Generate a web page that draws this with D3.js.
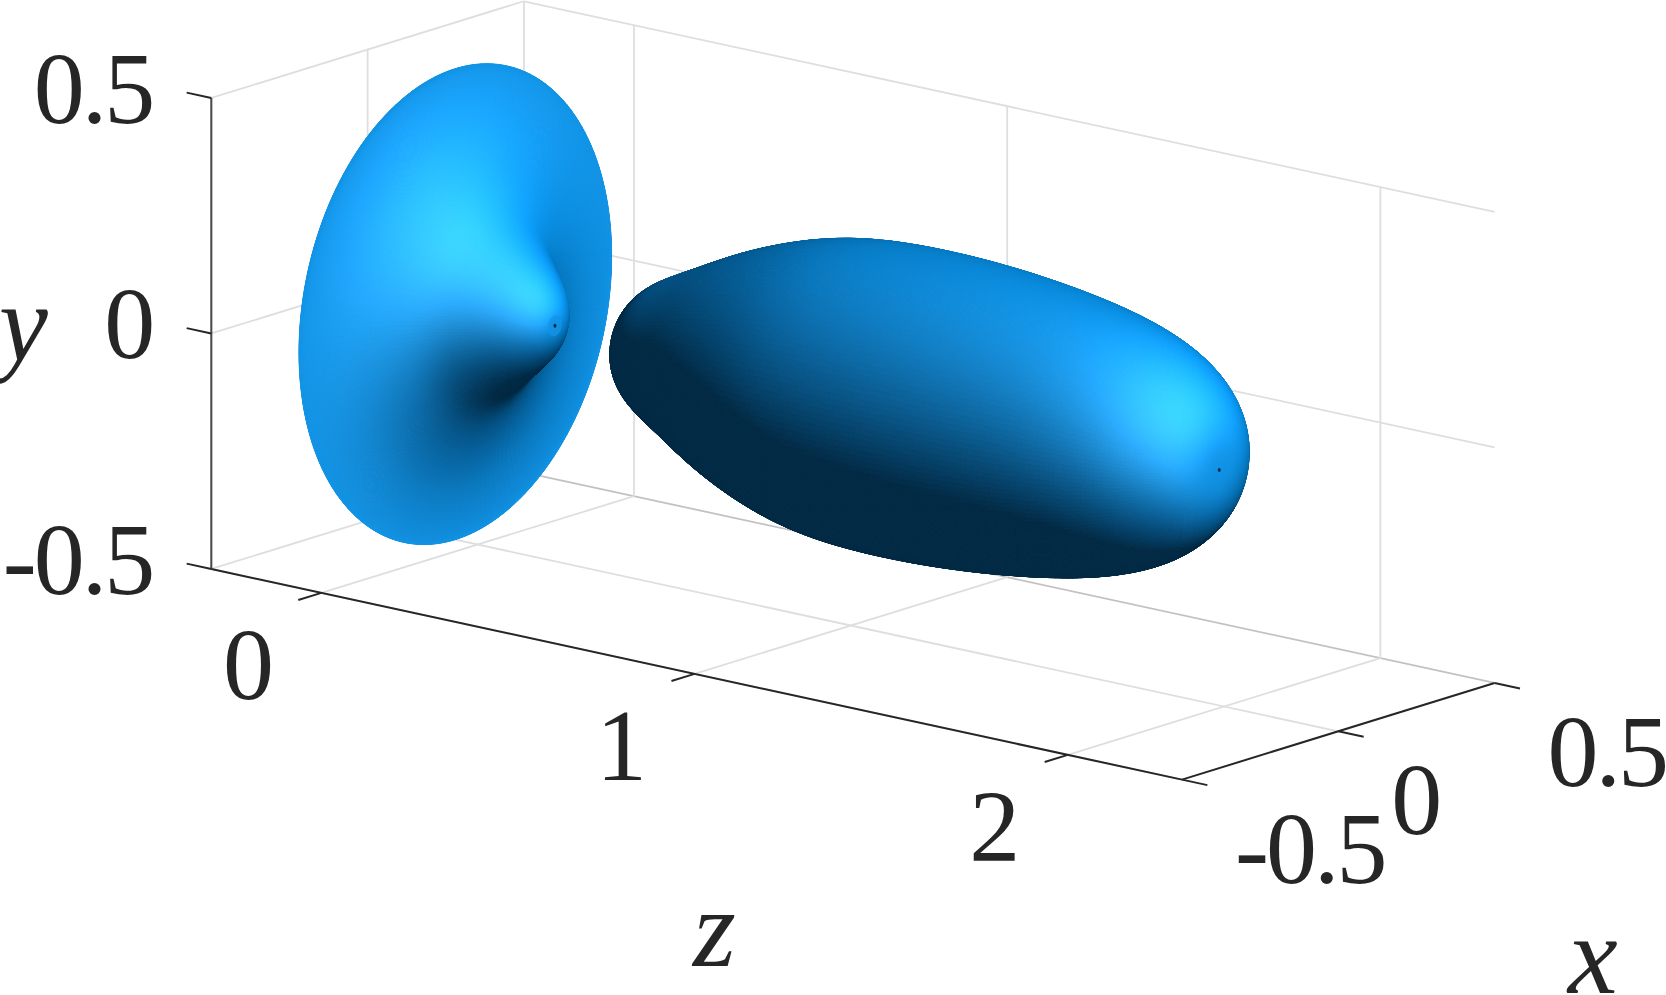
<!DOCTYPE html>
<html><head><meta charset="utf-8">
<script src="https://cdn.jsdelivr.net/npm/d3@7"></script>
<style>html,body{margin:0;padding:0;background:#fff;overflow:hidden}svg{display:block}</style>
</head><body><svg id="c" width="1666" height="995"></svg>
<script>
// ---- data ----
const xTicks=[-0.5,0,0.5], yTicks=[-0.5,0,0.5], zTicks=[0,1,2];
const xTickLabels=["-0.5","0","0.5"], yTickLabels=["-0.5","0","0.5"], zTickLabels=["0","1","2"];
const zLimits=[-0.295,2.306];
// profile of each axisymmetric body: axial position z and radius r, walking from the front pole to the back
const discZ=[0.207,0.207,0.205,0.194,0.162,0.112,0.062,0.025,-0.005,-0.027,-0.043,-0.053,-0.058,-0.06,-0.06];
const discR=[0,0.012,0.03,0.06,0.10,0.14,0.18,0.22,0.27,0.32,0.37,0.42,0.46,0.49,0.5];
const discCapR=0.022;
const bodyZ=[1.987,1.987,1.955,1.87,1.75,1.6,1.4,1.2,1.0,0.85,0.7,0.58,0.50,0.445,0.41,0.40];
const bodyR=[0,0.07,0.145,0.216,0.262,0.292,0.314,0.323,0.318,0.29,0.24,0.184,0.15,0.115,0.06,0];
const inkColor="#262626", gridColor="#dedede";

// ---- scales: an orthographic view built from three linear scales ----
const sxX=d3.scaleLinear([-0.5,0.5],[-156.3,156.3]), sxY=d3.scaleLinear([-0.5,0.5],[48.35,-48.35]);
const syY=d3.scaleLinear([-0.5,0.5],[235.5,-235.5]);
const szX=d3.scaleLinear([0,1],[0,373.2]), szY=d3.scaleLinear([0,1],[0,81]);
const X0=477.7, Y0=309;
const P=(x,y,z)=>[X0+sxX(x)+szX(z), Y0+sxY(x)+syY(y)+szY(z)];
const U=[sxX(1)-sxX(0),0,szX(1)], V=[sxY(1)-sxY(0),syY(1)-syY(0),szY(1)];
let view=[U[1]*V[2]-U[2]*V[1],U[2]*V[0]-U[0]*V[2],U[0]*V[1]-U[1]*V[0]];
const vl=Math.hypot(...view); view=view.map(d=>d/vl); if(view[0]>0) view=view.map(d=>-d);
const dot=(a,b)=>a[0]*b[0]+a[1]*b[1]+a[2]*b[2];
const unit=a=>{const m=Math.hypot(...a);return a.map(d=>d/m)};
const half=unit([-0.456,0.501,0.736]);
const lightDir=(()=>{const k=2*dot(half,view);return unit(half.map((h,i)=>k*h-view[i]))})();
const ambient=[2,42,69], diffuse=[5,125,199], specular=53, specPower=4.5;
function shade(N){
  const t=Math.max(0,dot(N,lightDir));
  const s=t>0?specular*Math.pow(Math.max(0,dot(N,half)),specPower):0;
  return d3.rgb(Math.min(255,ambient[0]+diffuse[0]*t+s),Math.min(255,ambient[1]+diffuse[1]*t+s),Math.min(255,ambient[2]+diffuse[2]*t+s)).formatHex();
}

const svg=d3.select("#c");
const line=d3.line();
const seg=(g,a,b,c,w)=>g.append("path").attr("d",line([a,b])).attr("stroke",c).attr("stroke-width",w).attr("fill","none");

// ---- grid ----
const [zA,zB]=zLimits;
const grid=svg.append("g"), GW=1.8;
xTicks.forEach(x=>{
  seg(grid,P(x,-0.5,zA),P(x,-0.5,zB),x===0.5?"#c2c2c2":gridColor,GW);
  seg(grid,P(x,-0.5,zA),P(x,0.5,zA),gridColor,GW);
});
zTicks.forEach(z=>{
  seg(grid,P(-0.5,-0.5,z),P(0.5,-0.5,z),gridColor,GW);
  seg(grid,P(0.5,-0.5,z),P(0.5,0.5,z),gridColor,GW);
});
yTicks.forEach(y=>{
  seg(grid,P(-0.5,y,zA),P(0.5,y,zA),gridColor,GW);
  if(y>-0.5) seg(grid,P(0.5,y,zA),P(0.5,y,zB),gridColor,GW);
});

// ---- surfaces of revolution, profile smoothed with d3's basis spline ----
function quads(zs,rs,nStations,nTheta){
  const fz=d3.interpolateBasis(zs), fr=d3.interpolateBasis(rs);
  const st=d3.range(nStations+1).map(i=>({z:fz(i/nStations),r:Math.max(0,fr(i/nStations))}));
  const out=[], th=d3.range(nTheta+1).map(i=>i/nTheta*2*Math.PI);
  for(let i=0;i<st.length-1;i++){
    const a=st[i],b=st[i+1];
    const pa=st[Math.max(i-1,0)],pb=st[Math.min(i+2,st.length-1)];
    let dr=pb.r-pa.r,dz=pb.z-pa.z; const m=Math.hypot(dr,dz)||1; dr/=m;dz/=m;
    const nr=-dz,nz=dr;
    for(let j=0;j<nTheta;j++){
      const tm=(th[j]+th[j+1])/2,c=Math.cos(tm),s=Math.sin(tm);
      const N=[nr*c,nr*s,nz];
      if(dot(N,view)<-0.02) continue;
      const rm=(a.r+b.r)/2,zm=(a.z+b.z)/2;
      const depth=rm*c*view[0]+rm*s*view[1]+zm*view[2];
      const c0=Math.cos(th[j]),s0=Math.sin(th[j]),c1=Math.cos(th[j+1]),s1=Math.sin(th[j+1]);
      out.push({depth,col:shade(N),pts:[P(a.r*c0,a.r*s0,a.z),P(b.r*c0,b.r*s0,b.z),P(b.r*c1,b.r*s1,b.z),P(a.r*c1,a.r*s1,a.z)]});
    }
  }
  return out.sort((p,q)=>p.depth-q.depth);
}
function drawBody(cls,zs,rs,nStations,nTheta,capR){
  svg.append("g").attr("class",cls).selectAll("path").data(quads(zs,rs,nStations,nTheta)).join("path")
    .attr("d",d=>line(d.pts)+"Z")
    .attr("fill",d=>d.col).attr("stroke",d=>d.col).attr("stroke-width",1).attr("stroke-linejoin","round");
  if(capR){
    const ring=d3.range(40).map(i=>P(capR*Math.cos(i/40*2*Math.PI),capR*Math.sin(i/40*2*Math.PI),zs[0]));
    svg.append("path").attr("d",line(ring)+"Z").attr("fill",shade([0,0,1])).attr("opacity",0.75);
  }
  const pole=P(0,0,zs[0]);
  svg.append("ellipse").attr("cx",pole[0]).attr("cy",pole[1]).attr("rx",1.4).attr("ry",2).attr("fill","#05263f");
}
drawBody("disc",discZ,discR,200,170,discCapR);
drawBody("body",bodyZ,bodyR,200,170,0);

// ---- axes ----
const axes=svg.append("g");
seg(axes,P(-0.5,-0.5,zA),P(-0.5,0.5,zA),"#4a4a4a",2);
seg(axes,P(-0.5,-0.5,zA),P(-0.5,-0.5,zB),inkColor,2);
seg(axes,P(-0.5,-0.5,zB),P(0.5,-0.5,zB),inkColor,2);
yTicks.forEach(y=>seg(axes,P(-0.5,y,zA),P(-0.5,y,zA-0.066),inkColor,2));
zTicks.forEach(z=>seg(axes,P(-0.5,-0.5,z),P(-0.574,-0.5,z),inkColor,2));
xTicks.forEach(x=>seg(axes,P(x,-0.5,zB),P(x,-0.5,zB+0.068),inkColor,2));

// ---- text ----
const txt=(s,x,y,anchor,size,italic,ls)=>svg.append("text").text(s).attr("x",x).attr("y",y)
  .attr("text-anchor",anchor).attr("font-family","'Liberation Serif',serif").attr("font-size",size)
  .attr("font-style",italic?"italic":"normal").attr("fill",inkColor).attr("letter-spacing",ls||0);
const F=102;
yTicks.forEach((y,i)=>{const p=P(-0.5,y,zA);txt(yTickLabels[i],p[0]-59,p[1]+25,"end",F,false,-3)});
zTicks.forEach((z,i)=>{const p=P(-0.5,-0.5,z);txt(zTickLabels[i],p[0]-73,p[1]+106,"middle",F,false)});
xTicks.forEach((x,i)=>{const p=P(x,-0.5,zB);txt(xTickLabels[i],p[0]+53,p[1]+103,"start",F,false,-3)});
txt("y",-1,361,"start",110,true);
txt("z",693,966,"start",110,true);
txt("x",1568,993,"start",112,true);
</script></body></html>
